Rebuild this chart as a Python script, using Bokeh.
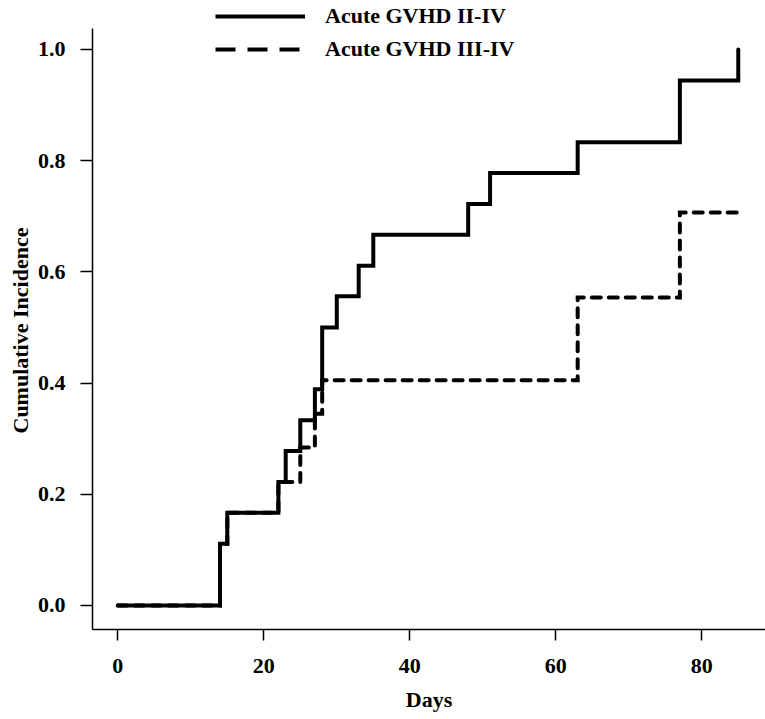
from bokeh.plotting import figure
from bokeh.models import (Range1d, FixedTicker, NumeralTickFormatter, Legend,
                          LegendItem, Title)
from bokeh.embed import file_html
from bokeh.resources import INLINE

# ---- data ----
days_grade2_4 = [0, 14, 15, 22, 23, 25, 27, 28, 30, 33, 35, 48, 51, 63, 77, 85]
ci_grade2_4 = [0.0, 0.111, 0.167, 0.222, 0.278, 0.333, 0.389, 0.5, 0.556,
               0.611, 0.667, 0.722, 0.778, 0.833, 0.944, 1.0]

days_grade3_4 = [0, 14, 15, 22, 25, 27, 28, 63, 77, 85]
ci_grade3_4 = [0.0, 0.111, 0.167, 0.222, 0.284, 0.345, 0.405, 0.554, 0.707, 0.707]

series_labels = ["Acute GVHD II-IV", "Acute GVHD III-IV"]
x_ticks = [0, 20, 40, 60, 80]
y_ticks = [0.0, 0.2, 0.4, 0.6, 0.8, 1.0]
x_title = "Days"
y_title = "Cumulative Incidence"

FONT = "Liberation Serif"
NAN = float("nan")

p = figure(width=765, height=719, output_backend="svg", toolbar_location=None,
           x_range=Range1d(-3.466, 88.73), y_range=Range1d(-0.0432, 1.0881),
           min_border_left=92, min_border_right=0, min_border_top=0,
           min_border_bottom=90)
p.outline_line_color = None
p.xgrid.visible = False
p.ygrid.visible = False
p.background_fill_color = "white"
p.border_fill_color = "white"

p.step(days_grade2_4, ci_grade2_4, mode="after", line_color="black",
       line_width=4, line_cap="round", line_join="miter")
p.step(days_grade3_4, ci_grade3_4, mode="after", line_color="black",
       line_width=4, line_dash="9 8", line_cap="round", line_join="miter")

# legend-only renderers (placeholder NaN point, nothing drawn in the plot)
leg_solid = p.line(x=[NAN], y=[NAN], line_color="black", line_width=4)
leg_dash = p.line(x=[NAN], y=[NAN], line_color="black", line_width=4,
                  line_dash="20 12")

legend = Legend(items=[LegendItem(label=series_labels[0], renderers=[leg_solid]),
                       LegendItem(label=series_labels[1], renderers=[leg_dash])],
                location=(123, 567), glyph_width=90, glyph_height=26,
                label_height=26, label_standoff=20, spacing=7, padding=0,
                margin=0, border_line_color=None, background_fill_alpha=0,
                label_text_font=FONT, label_text_font_style="bold",
                label_text_font_size="22px", label_text_color="black")
p.add_layout(legend, "center")

for ax in (p.xaxis[0], p.yaxis[0]):
    ax.axis_line_color = "black"
    ax.axis_line_width = 1.5
    ax.major_tick_line_color = "black"
    ax.major_tick_line_width = 1.5
    ax.minor_tick_line_color = None
    ax.major_tick_in = 0
    ax.major_label_text_font = FONT
    ax.major_label_text_font_style = "bold"
    ax.major_label_text_font_size = "22px"
    ax.major_label_text_color = "black"
    ax.axis_label_text_font = FONT
    ax.axis_label_text_font_style = "bold"
    ax.axis_label_text_font_size = "22px"
    ax.axis_label_text_color = "black"

p.xaxis.ticker = FixedTicker(ticks=x_ticks)
p.xaxis.major_tick_out = 11
p.xaxis.major_label_standoff = 18
p.xaxis.axis_label = x_title
p.xaxis.axis_label_standoff = 11

p.yaxis.ticker = FixedTicker(ticks=y_ticks)
p.yaxis.formatter = NumeralTickFormatter(format="0.0")
p.yaxis.major_tick_out = 12
p.yaxis.major_label_standoff = 15
p.yaxis.bounds = (-0.0432, 1.037)

ytitle = Title(text=y_title, align="left", offset=196, standoff=4,
               text_font=FONT, text_font_style="bold", text_font_size="22px",
               text_color="black")
p.add_layout(ytitle, "left")

open("out.html", "w").write(file_html(p, INLINE))
